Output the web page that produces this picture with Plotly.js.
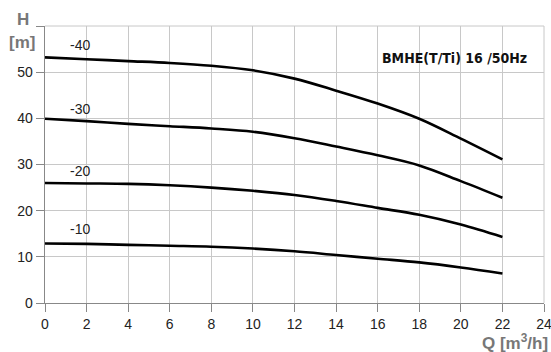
<!DOCTYPE html>
<html>
<head>
<meta charset="utf-8">
<script src="https://cdn.plot.ly/plotly-3.0.1.min.js"></script>
<style>
  html, body { margin: 0; padding: 0; background: #fff; }
  #chart { width: 551px; height: 352px; }
</style>
</head>
<body>
<div id="chart"></div>
<script>
// Flow rate Q [m3/h]
const flow = [0, 2, 4, 6, 8, 10, 12, 14, 16, 18, 20, 22];
// Head H [m] for each stage count
const head40 = [53.2, 52.8, 52.4, 52.0, 51.4, 50.4, 48.6, 46.0, 43.2, 39.9, 35.6, 31.1];
const head30 = [39.9, 39.4, 38.8, 38.3, 37.8, 37.1, 35.7, 33.9, 32.0, 29.8, 26.4, 22.8];
const head20 = [26.0, 25.9, 25.8, 25.5, 25.0, 24.3, 23.4, 22.1, 20.6, 19.1, 17.0, 14.3];
const head10 = [12.9, 12.8, 12.6, 12.4, 12.2, 11.8, 11.2, 10.4, 9.6, 8.8, 7.7, 6.4];
const curveNames = ['-40', '-30', '-20', '-10'];
const curveHeads = [head40, head30, head20, head10];
// Curve label anchor points (Q, H)
const labelQ = [1.7, 1.7, 1.7, 1.7];
const labelH = [55.8, 42.1, 28.5, 16.0];

const xTicks = [0, 2, 4, 6, 8, 10, 12, 14, 16, 18, 20, 22, 24];
const yTicks = [0, 10, 20, 30, 40, 50, 60];
const yTickText = ['0', '10', '20', '30', '40', '50', ''];

const tickFont = { family: '"Liberation Sans", Arial, sans-serif', size: 14, color: '#222' };
const axisTitleFont = { family: '"Liberation Sans", Arial, sans-serif', size: 17, color: '#777', weight: 'bold' };

const traces = curveHeads.map((h, i) => ({
  x: flow,
  y: h,
  name: curveNames[i],
  type: 'scatter',
  mode: 'lines',
  line: { color: '#000', width: 2.6, shape: 'spline', smoothing: 1 },
  hoverinfo: 'skip'
}));

const annotations = curveNames.map((n, i) => ({
  x: labelQ[i], y: labelH[i], xref: 'x', yref: 'y',
  text: n, showarrow: false, xanchor: 'center', yanchor: 'middle',
  font: tickFont
}));

annotations.push(
  { text: 'BMHE(T/Ti) 16 /50Hz', xref: 'paper', yref: 'paper', x: 0.97, y: 0.885,
    xanchor: 'right', yanchor: 'middle', showarrow: false,
    font: { family: '"DejaVu Sans Condensed", "DejaVu Sans", sans-serif', size: 14, color: '#111', weight: 'bold' } },
  { text: 'H', xref: 'paper', yref: 'paper', x: -0.044, y: 1.025,
    xanchor: 'center', yanchor: 'middle', showarrow: false,
    font: axisTitleFont },
  { text: '[m]', xref: 'paper', yref: 'paper', x: -0.046, y: 0.94,
    xanchor: 'center', yanchor: 'middle', showarrow: false,
    font: axisTitleFont },
  { text: 'Q [m<sup>3</sup>/h]', xref: 'paper', yref: 'paper', x: 1.012, y: -0.186,
    xanchor: 'right', yanchor: 'bottom', showarrow: false,
    font: axisTitleFont }
);

// Light frame on the top and right edges, matching the grid
const shapes = [
  { type: 'line', xref: 'paper', yref: 'paper', x0: 0, x1: 1, y0: 1, y1: 1, line: { color: '#c8c8c8', width: 1 } },
  { type: 'line', xref: 'paper', yref: 'paper', x0: 1, x1: 1, y0: 0, y1: 1, line: { color: '#c8c8c8', width: 1 } }
];

const layout = {
  width: 551,
  height: 352,
  margin: { l: 45, r: 7, t: 26, b: 49 },
  paper_bgcolor: '#fff',
  plot_bgcolor: '#fff',
  showlegend: false,
  xaxis: {
    range: [0, 24],
    tickvals: xTicks,
    ticktext: xTicks.map(String),
    ticks: 'outside', ticklen: 8, tickcolor: '#888', tickwidth: 1,
    ticklabeloverflow: 'allow',
    showgrid: true, gridcolor: '#c8c8c8', gridwidth: 1,
    showline: true, linecolor: '#888', linewidth: 1.3,
    zeroline: false,
    tickfont: tickFont,
    fixedrange: true
  },
  yaxis: {
    range: [0, 60],
    tickvals: yTicks,
    ticktext: yTickText,
    ticks: 'outside', ticklen: 8, tickcolor: '#888', tickwidth: 1,
    showgrid: true, gridcolor: '#c8c8c8', gridwidth: 1,
    showline: true, linecolor: '#888', linewidth: 1.3,
    zeroline: false,
    tickfont: tickFont,
    fixedrange: true
  },
  shapes: shapes,
  annotations: annotations
};

Plotly.newPlot('chart', traces, layout, { staticPlot: true, displayModeBar: false });
</script>
</body>
</html>
